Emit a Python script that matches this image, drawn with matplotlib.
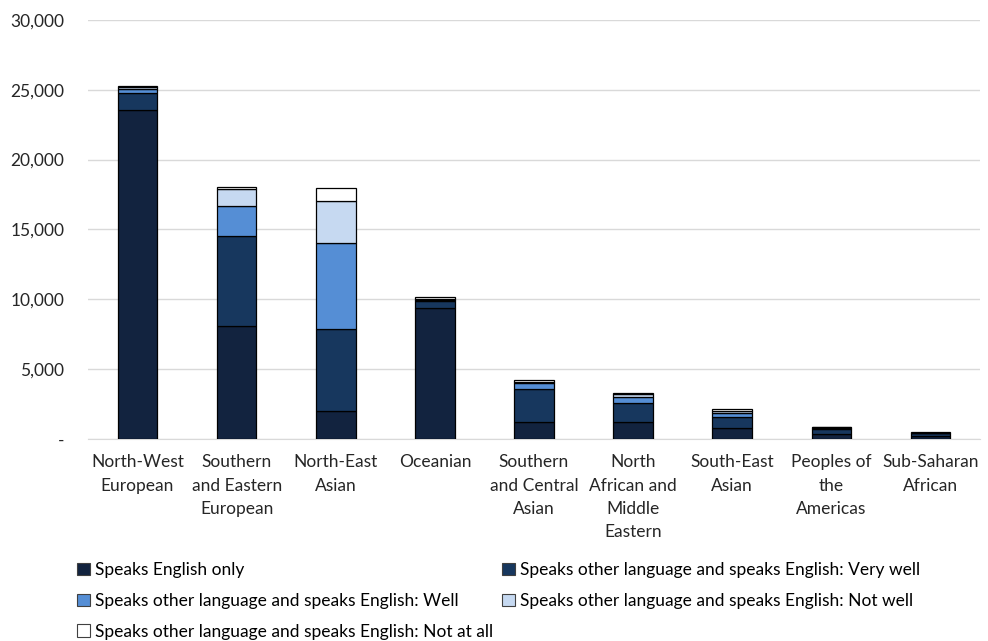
import matplotlib.pyplot as plt
from matplotlib.patches import Patch
from matplotlib.ticker import FuncFormatter
import numpy as np

plt.rcParams['font.family'] = ['Lato', 'DejaVu Sans']

# categories and values
categories = ['North-West\nEuropean', 'Southern\nand Eastern\nEuropean', 'North-East\nAsian',
              'Oceanian', 'Southern\nand Central\nAsian', 'North\nAfrican and\nMiddle\nEastern',
              'South-East\nAsian', 'Peoples of\nthe\nAmericas', 'Sub-Saharan\nAfrican']

english_only = [23550, 8100, 2000, 9360, 1240, 1200, 760, 350, 250]
very_well    = [1230, 6430, 5900, 520, 2320, 1360, 840, 400, 180]
well         = [280, 2150, 6130, 90, 430, 430, 280, 60, 30]
not_well     = [120, 1220, 2980, 80, 100, 230, 100, 30, 10]
not_at_all   = [100, 150, 960, 140, 130, 100, 150, 40, 10]

series = [english_only, very_well, well, not_well, not_at_all]
labels = ['Speaks English only',
          'Speaks other language and speaks English: Very well',
          'Speaks other language and speaks English: Well',
          'Speaks other language and speaks English: Not well',
          'Speaks other language and speaks English: Not at all']
colors = ['#12233f', '#17375e', '#558ed5', '#c6d9f1', '#ffffff']

fig = plt.figure(figsize=(9.88, 6.41), dpi=100)
ax = fig.add_axes([0.089, 0.315, 0.903, 0.654])

x = np.arange(len(categories))
bottom = np.zeros(len(categories))
for vals, col, lab in zip(series, colors, labels):
    ax.bar(x, vals, width=0.4, bottom=bottom, color=col, edgecolor='black',
           linewidth=0.9, label=lab, zorder=3)
    bottom += np.array(vals)

ax.set_ylim(0, 30000)
ax.set_xlim(-0.5, len(categories) - 0.5)
ax.set_yticks(np.arange(0, 30001, 5000))
ax.yaxis.set_major_formatter(FuncFormatter(lambda v, p: '-' if v == 0 else '{:,.0f}'.format(v)))
ax.set_xticks(x)
ax.set_xticklabels(categories, linespacing=1.55)
ax.tick_params(axis='both', length=0, labelsize=12.5, colors='#262626')
ax.tick_params(axis='y', pad=17)
ax.tick_params(axis='x', pad=11)
ax.grid(axis='y', color='#d9d9d9', linewidth=1, zorder=0)
for s in ['top', 'right', 'left']:
    ax.spines[s].set_visible(False)
ax.spines['bottom'].set_color('#d9d9d9')

# legend in row order: reorder handles because matplotlib fills column-wise
handles = [Patch(facecolor=c, edgecolor='#404040', linewidth=0.8) for c in colors]
order = [0, 2, 4, 1, 3]
fig.legend([handles[i] for i in order], [labels[i] for i in order], ncol=2,
           loc='upper left', bbox_to_anchor=(0.078, 0.123), frameon=False,
           fontsize=12.5, handlelength=0.75, handleheight=0.75, handletextpad=0.3,
           columnspacing=0.5, labelspacing=0.85, borderaxespad=0, borderpad=0)

fig.savefig('out.png', dpi=100)
